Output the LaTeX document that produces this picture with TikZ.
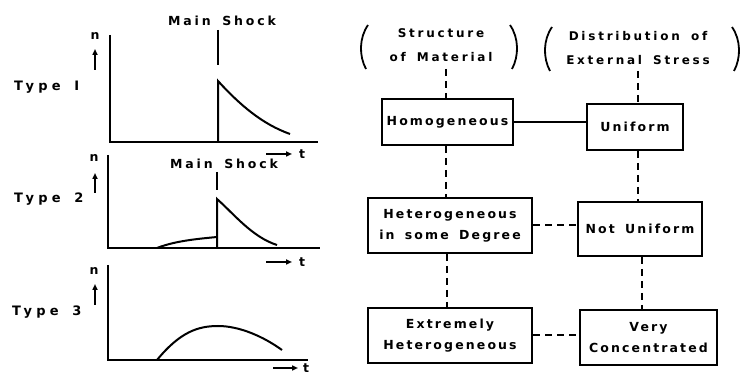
\documentclass[tikz,border=0pt]{standalone}
\usepackage{fontspec}
\newfontfamily\lab{DejaVu Sans}[LetterSpace=17,WordSpace=1.6]
\newfontfamily\labw{DejaVu Sans}[LetterSpace=23,WordSpace=1.6]
\newfontfamily\labt{DejaVu Sans}[LetterSpace=32,WordSpace=1.6]
\usetikzlibrary{arrows.meta}
\begin{document}
\begin{tikzpicture}[x=1pt,y=-1pt,
  txt/.style={font=\labw\bfseries\fontsize{12.5}{14}\selectfont, inner sep=0pt, align=center},
  typ/.style={font=\labt\bfseries\fontsize{13}{14}\selectfont, inner sep=0pt, anchor=west},
  box/.style={draw, line width=2pt, inner sep=0pt, font=\lab\bfseries\fontsize{12.5}{21}\selectfont, align=center},
  ax/.style={line width=2pt},
  crv/.style={line width=2pt},
  dsh/.style={line width=2pt, dash pattern=on 7pt off 5pt},
  arr/.style={line width=1.8pt, -{Triangle[length=6pt,width=5pt]}}]
\useasboundingbox (0,0) rectangle (742,379);
% ---------- left: panels ----------
% panel 1
\node[txt] (ms1) at (222,21) {Main Shock};
\node[typ] (ty1) at (14,87) {Type I};
\node[txt] (n1) at (95,36) {n};
\coordinate (n1a) at (95,70); \coordinate (n1b) at (95,49);
\draw[arr] (n1a) -- (n1b);
\coordinate (o1) at (110,142); \coordinate (y1) at (110,35); \coordinate (x1) at (318,142);
\draw[ax] (y1) -- (o1) -- (x1);
\draw[crv] (218,30) -- (218,65);
\draw[crv] (218,142) -- (218,81) .. controls (240,105) and (262,124) .. (290,134);
\coordinate (t1a) at (266,154); \coordinate (t1b) at (292,154);
\draw[arr] (t1a) -- (t1b);
\node[txt] (t1) at (302,154) {t};
% panel 2
\node[txt] (ms2) at (224,164) {Main Shock};
\node[typ] (ty2) at (14,199) {Type 2};
\node[txt] (n2) at (94,158) {n};
\coordinate (n2a) at (95,193); \coordinate (n2b) at (95,173);
\draw[arr] (n2a) -- (n2b);
\coordinate (o2) at (108,248); \coordinate (y2) at (108,155); \coordinate (x2) at (320,248);
\draw[ax] (y2) -- (o2) -- (x2);
\draw[crv] (217,172) -- (217,190);
\draw[crv] (217,248) -- (217,199) .. controls (234,214) and (252,237) .. (277,245);
\draw[crv] (157,248) .. controls (175,241) and (196,239) .. (217,237);
\coordinate (t2a) at (266,262); \coordinate (t2b) at (292,262);
\draw[arr] (t2a) -- (t2b);
\node[txt] (t2) at (302,262) {t};
% panel 3
\node[typ] (ty3) at (12,312) {Type 3};
\node[txt] (n3) at (94,271) {n};
\coordinate (n3a) at (95,305); \coordinate (n3b) at (95,284);
\draw[arr] (n3a) -- (n3b);
\coordinate (o3) at (108,360); \coordinate (y3) at (108,265); \coordinate (x3) at (308,360);
\draw[ax] (y3) -- (o3) -- (x3);
\draw[crv] (157,360) .. controls (180,332) and (198,326) .. (218,326) .. controls (240,326) and (264,337) .. (282,350);
\coordinate (t3a) at (273,368); \coordinate (t3b) at (298,368);
\draw[arr] (t3a) -- (t3b);
\node[txt] (t3) at (306,368) {t};
% ---------- right: scheme ----------
\node[txt, font=\labw\bfseries\fontsize{12}{24}\selectfont] (struct) at (441,45) {Structure\\of Material};
\node[txt, font=\labw\bfseries\fontsize{12}{24}\selectfont] (dist) at (638,48) {Distribution of\\External Stress};
\draw[line width=1.8pt] (368,25) .. controls (359,38) and (359,56) .. (366,69);
\draw[line width=1.8pt] (510,25) .. controls (519,38) and (519,56) .. (512,69);
\draw[line width=1.8pt] (552,27) .. controls (543,40) and (543,58) .. (550,71);
\draw[line width=1.8pt] (732,27) .. controls (741,40) and (741,58) .. (734,71);
\node[box, minimum width=131pt, minimum height=46pt] (homog) at (447.5,122) {Homogeneous};
\node[box, minimum width=96pt, minimum height=46pt] (unif) at (635,127) {Uniform};
\node[box, minimum width=164pt, minimum height=55pt] (hetero) at (450,225.5) {Heterogeneous\\in some Degree};
\node[box, minimum width=124pt, minimum height=54pt] (notu) at (640,229) {Not Uniform};
\node[box, minimum width=164pt, minimum height=55pt] (extr) at (450,335.5) {Extremely\\Heterogeneous};
\node[box, minimum width=137pt, minimum height=55pt] (very) at (648.5,337.5) {Very\\Concentrated};
\coordinate (sb) at (446,69); \coordinate (db) at (638,71);
\draw[dsh] (sb) -- (sb |- homog.north);
\draw[dsh] (db) -- (db |- unif.north);
\draw[line width=1.8pt] (homog.east) -- (homog.east -| unif.west);
\draw[dsh] (homog.south -| sb) -- (sb |- hetero.north);
\draw[dsh] (unif.south -| db) -- (db |- notu.north);
\draw[dsh] (hetero.east) -- (hetero.east -| notu.west);
\coordinate (hx) at (447,0); \coordinate (vx) at (642,0);
\draw[dsh] (hetero.south -| hx) -- (extr.north -| hx);
\draw[dsh] (notu.south -| vx) -- (very.north -| vx);
\draw[dsh] (extr.east) -- (extr.east -| very.west);
\end{tikzpicture}
\end{document}
